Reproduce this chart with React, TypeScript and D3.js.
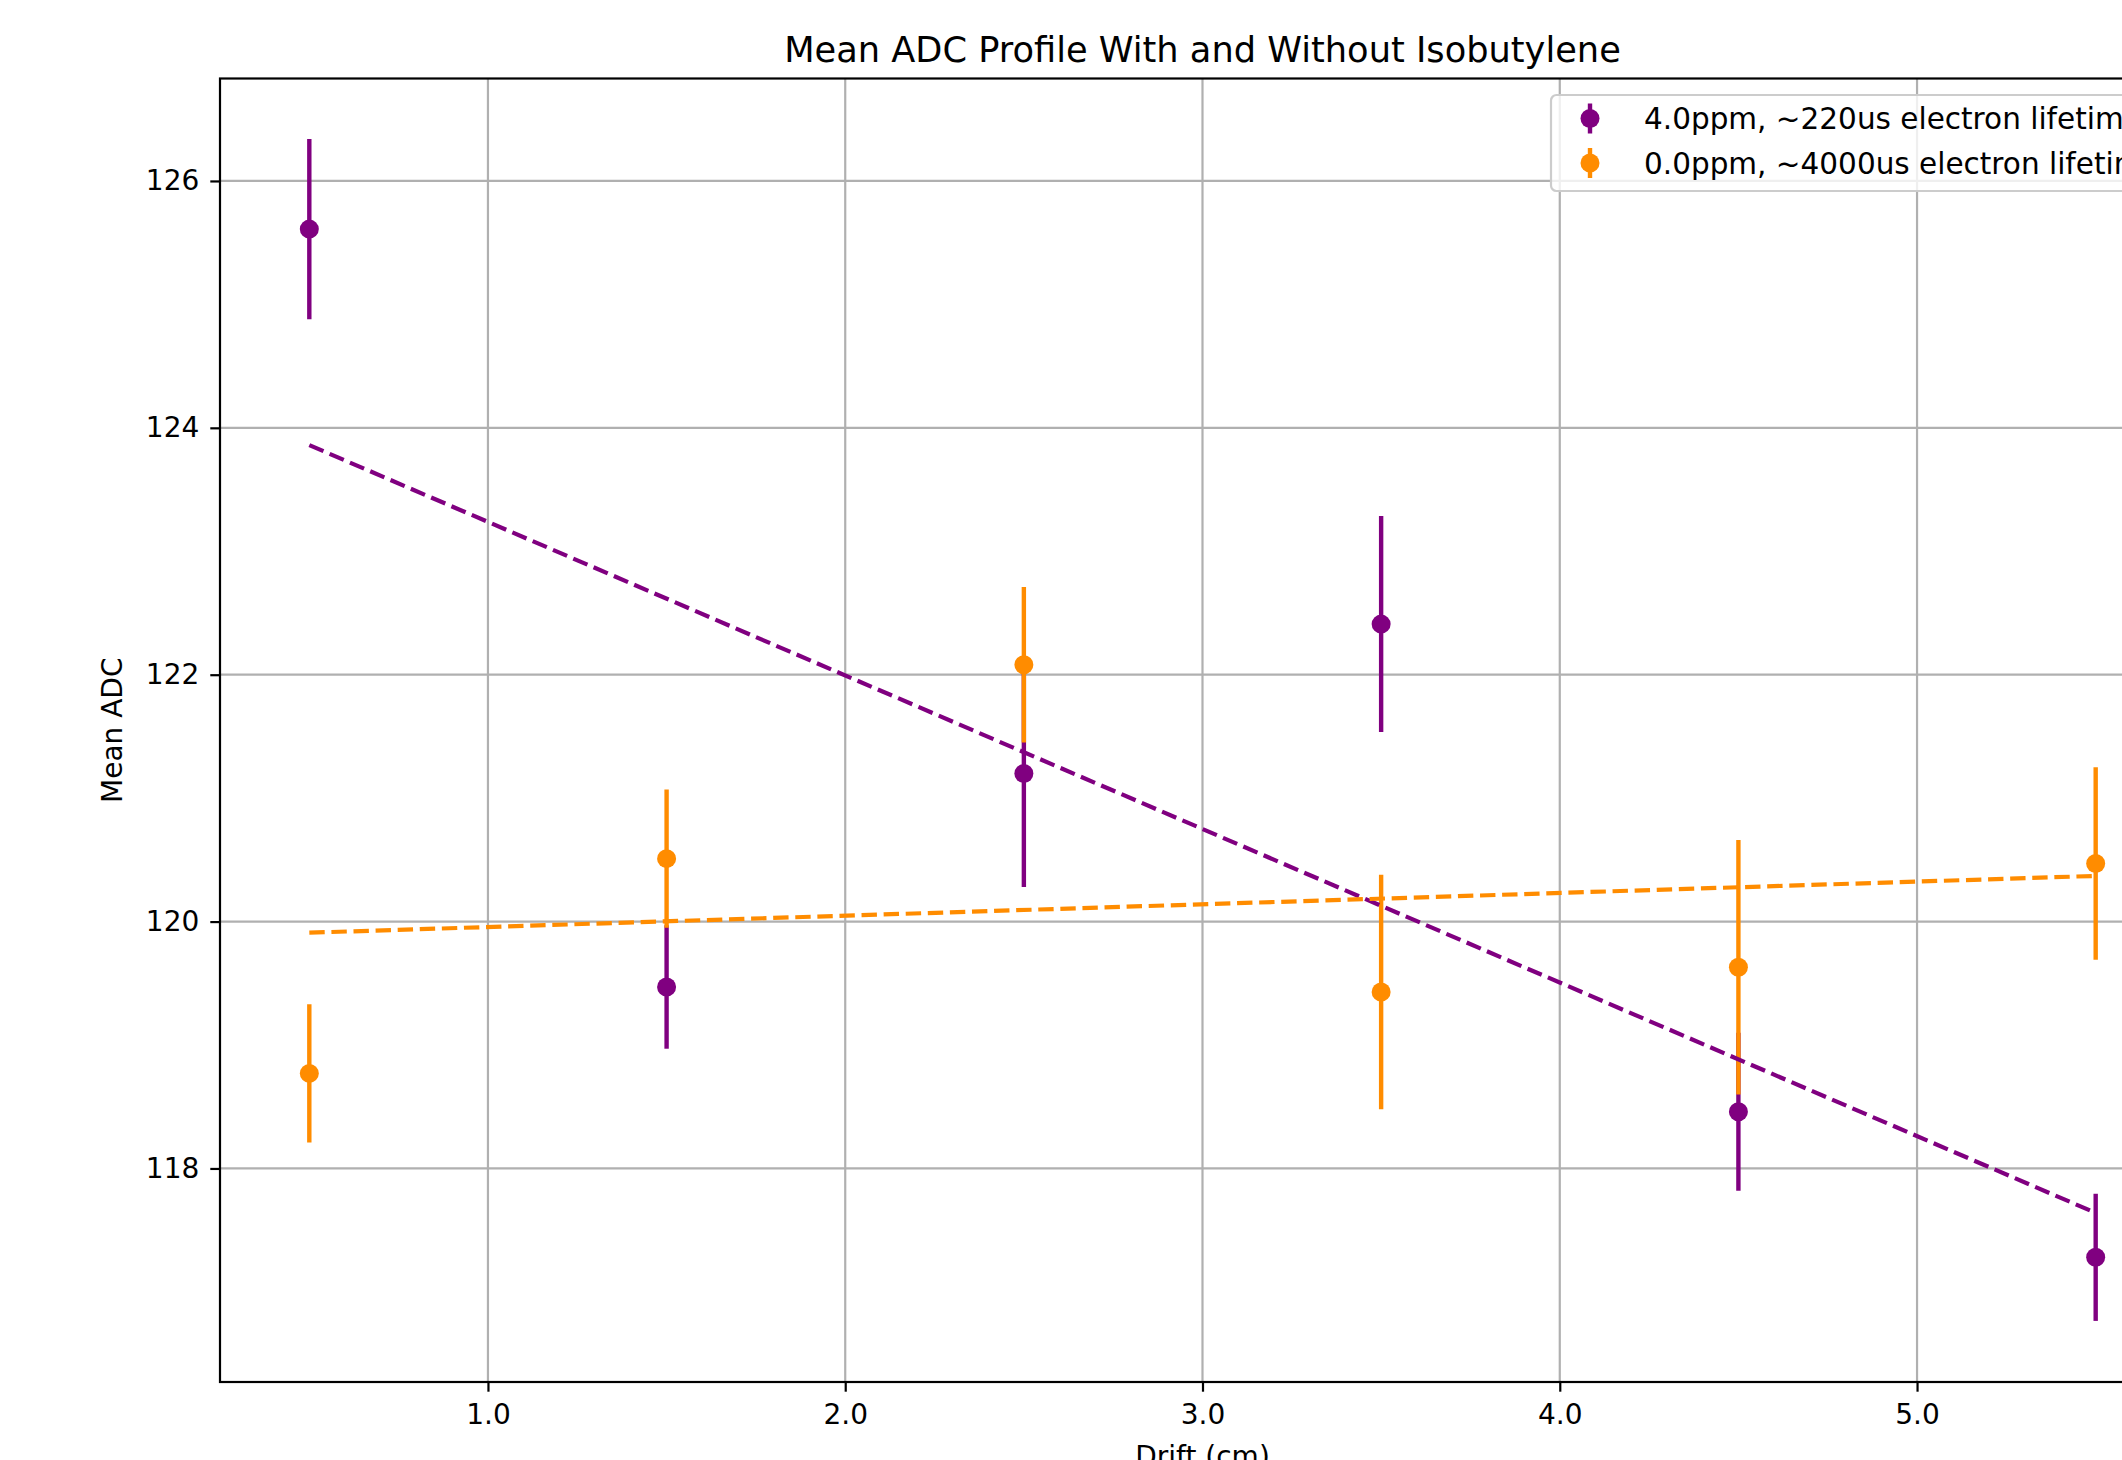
import { useEffect, useRef } from 'react';
import * as d3 from 'd3';

// drift positions (cm)
const drift = [0.5, 1.5, 2.5, 3.5, 4.5, 5.5];

// 4.0ppm run
const isoMean = [125.61, 119.47, 121.2, 122.41, 118.46, 117.28];
const isoErr = [0.73, 0.5, 0.92, 0.875, 0.64, 0.515];

// 0.0ppm run
const pureMean = [118.77, 120.51, 122.08, 119.43, 119.63, 120.47];
const pureErr = [0.56, 0.56, 0.63, 0.95, 1.03, 0.78];

// linear fits (end points)
const fitDrift = [0.5, 5.5];
const isoFit = [123.86, 117.64];
const pureFit = [119.91, 120.37];

const xTicks = [1.0, 2.0, 3.0, 4.0, 5.0];
const yTicks = [118, 120, 122, 124, 126];

const seriesLabels = [
  '4.0ppm, ~220us electron lifetime',
  '0.0ppm, ~4000us electron lifetime',
];

export default function App() {
  const svgRef = useRef<SVGSVGElement>(null);

  useEffect(() => {
    const width = 2122;
    const height = 1460;
    const left = 220;
    const right = 2185;
    const top = 78.5;
    const bottom = 1382;
    const font = 'DejaVu Sans, sans-serif';
    const tickFont = 28;
    const purple = '#800080';
    const orange = '#ff8c00';

    const svg = d3.select(svgRef.current);
    svg.selectAll('*').remove();
    svg.attr('width', width).attr('height', height);

    svg.append('rect').attr('width', width).attr('height', height).attr('fill', '#fff');

    const x = d3.scaleLinear().domain([0.25, 5.75]).range([left, right]);
    const y = d3.scaleLinear().domain([116.27, 126.83]).range([bottom, top]);

    // grid
    const grid = svg.append('g');
    xTicks.forEach(t => {
      grid.append('line')
        .attr('x1', x(t)).attr('x2', x(t))
        .attr('y1', top).attr('y2', bottom)
        .attr('stroke', '#b0b0b0').attr('stroke-width', 2.2);
    });
    yTicks.forEach(t => {
      grid.append('line')
        .attr('x1', left).attr('x2', right)
        .attr('y1', y(t)).attr('y2', y(t))
        .attr('stroke', '#b0b0b0').attr('stroke-width', 2.2);
    });

    // error bars + markers
    const drawSeries = (means: number[], errs: number[], color: string) => {
      const g = svg.append('g');
      drift.forEach((d, i) => {
        g.append('line')
          .attr('x1', x(d)).attr('x2', x(d))
          .attr('y1', y(means[i] - errs[i])).attr('y2', y(means[i] + errs[i]))
          .attr('stroke', color).attr('stroke-width', 4.4);
        g.append('circle')
          .attr('cx', x(d)).attr('cy', y(means[i]))
          .attr('r', 9.5).attr('fill', color);
      });
    };
    drawSeries(isoMean, isoErr, purple);
    drawSeries(pureMean, pureErr, orange);

    // fit lines
    const fitLine = d3.line<number>()
      .x((_, i) => x(fitDrift[i]))
      .y(v => y(v));
    [[isoFit, purple], [pureFit, orange]].forEach(([vals, color]) => {
      svg.append('path')
        .datum(vals as number[])
        .attr('d', fitLine)
        .attr('fill', 'none')
        .attr('stroke', color as string)
        .attr('stroke-width', 4.2)
        .attr('stroke-dasharray', '15.4,6.7');
    });

    // axes
    const xAxis = svg.append('g')
      .attr('transform', `translate(0,${bottom})`)
      .call(d3.axisBottom(x).tickValues(xTicks).tickFormat(d3.format('.1f')).tickSize(9.7).tickPadding(12));
    const yAxis = svg.append('g')
      .attr('transform', `translate(${left},0)`)
      .call(d3.axisLeft(y).tickValues(yTicks).tickFormat(d3.format('d')).tickSize(9.7).tickPadding(11));
    [xAxis, yAxis].forEach(a => {
      a.select('.domain').remove();
      a.selectAll('line').attr('stroke', '#000').attr('stroke-width', 2.2);
      a.selectAll('text').attr('fill', '#000').style('font-family', font).style('font-size', `${tickFont}px`);
    });

    // spines
    svg.append('rect')
      .attr('x', left).attr('y', top)
      .attr('width', right - left).attr('height', bottom - top)
      .attr('fill', 'none').attr('stroke', '#000').attr('stroke-width', 2.2);

    // labels
    svg.append('text')
      .attr('x', (left + right) / 2).attr('y', 62)
      .attr('text-anchor', 'middle')
      .style('font-family', font).style('font-size', '35.2px')
      .text('Mean ADC Profile With and Without Isobutylene');
    svg.append('text')
      .attr('x', (left + right) / 2).attr('y', 1466)
      .attr('text-anchor', 'middle')
      .style('font-family', font).style('font-size', `${tickFont}px`)
      .text('Drift (cm)');
    svg.append('text')
      .attr('transform', `translate(121.5,${(top + bottom) / 2}) rotate(-90)`)
      .attr('text-anchor', 'middle')
      .style('font-family', font).style('font-size', `${tickFont}px`)
      .text('Mean ADC');

    // legend
    const lg = svg.append('g');
    lg.append('rect')
      .attr('x', 1551).attr('y', 95)
      .attr('width', 620).attr('height', 96)
      .attr('rx', 5.5)
      .attr('fill', 'rgba(255,255,255,0.8)')
      .attr('stroke', '#cccccc').attr('stroke-width', 2.2);
    [purple, orange].forEach((color, i) => {
      const cy = 118.5 + i * 44.5;
      lg.append('line')
        .attr('x1', 1590).attr('x2', 1590)
        .attr('y1', cy - 15).attr('y2', cy + 15)
        .attr('stroke', color).attr('stroke-width', 4.4);
      lg.append('circle').attr('cx', 1590).attr('cy', cy).attr('r', 9.5).attr('fill', color);
      lg.append('text')
        .attr('x', 1644).attr('y', cy + 10.5)
        .style('font-family', font).style('font-size', '29.5px')
        .text(seriesLabels[i]);
    });
  }, []);

  return (
    <svg
      ref={svgRef}
      style={{ position: 'absolute', left: 0, top: 0, display: 'block' }}
    />
  );
}
